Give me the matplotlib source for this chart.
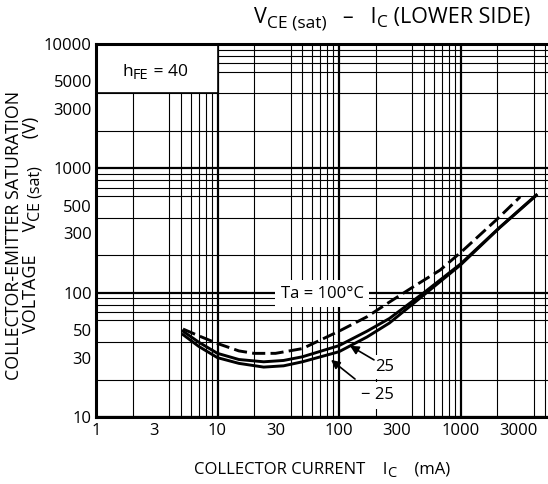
import numpy as np
import matplotlib
matplotlib.use("Agg")
import matplotlib.pyplot as plt
from matplotlib.ticker import FixedLocator, LogLocator, NullFormatter

plt.rcParams['font.family'] = ['Open Sans', 'DejaVu Sans']

# collector current (mA) / saturation voltage readings per temperature
ic_100 = [5.2, 7, 10, 15, 20, 30, 50, 100, 170, 260, 400, 680, 1050, 2000, 3100]
vce_100 = [51, 45, 39, 34, 32.5, 32.5, 35.5, 49, 64, 84, 110, 152, 219, 390, 590]

ic_25 = [5.2, 7, 10, 15, 24, 35, 50, 100, 170, 260, 500, 1000, 2100, 4200]
vce_25 = [49, 40, 32.5, 29, 27.8, 28.5, 30.5, 37.5, 49, 62, 100, 170, 335, 610]

ic_m25 = [5.2, 7, 10, 15, 24, 35, 50, 100, 170, 260, 500, 1000, 2100, 4200]
vce_m25 = [46, 37, 30, 27, 25.2, 25.8, 27.8, 33.5, 44, 57, 96, 167, 333, 605]

x_ticks = [1, 3, 10, 30, 100, 300, 1000, 3000]
y_ticks = [10, 30, 50, 100, 300, 500, 1000, 3000, 5000, 10000]

fig = plt.figure(figsize=(5.48, 4.84), dpi=100)
ax = fig.add_axes([96 / 548, 67 / 484, 1 - 96 / 548, 373 / 484])
ax.set_xscale('log')
ax.set_yscale('log')
ax.set_xlim(1, 10 ** ((548 - 96) / 121.5))
ax.set_ylim(10, 10000)


def chain(x, y, parts, rotation=0, center=False):
    """text made of pieces (text, size, drop in pt) placed one after another"""
    s0, size0, drop0 = parts[0]
    if rotation == 0:
        first = fig.text(x, y, s0, fontsize=size0, ha='left', va='bottom')
    else:
        first = fig.text(x, y, s0, fontsize=size0, ha='right', va='bottom',
                         rotation=90)
    arts = [first]
    prev, prev_drop = first, drop0
    for s, size, drop in parts[1:]:
        d = drop - prev_drop
        if rotation == 0:
            t = ax.annotate(s, xy=(1, 0), xycoords=prev, xytext=(0, -d),
                            textcoords='offset points', ha='left', va='bottom',
                            fontsize=size, annotation_clip=False)
        else:
            t = ax.annotate(s, xy=(1, 1), xycoords=prev, xytext=(d, 0),
                            textcoords='offset points', ha='right', va='bottom',
                            rotation=90, fontsize=size, annotation_clip=False)
        arts.append(t)
        prev, prev_drop = t, drop
    if center:
        fig.canvas.draw()
        r = fig.canvas.get_renderer()
        x0 = min(a.get_window_extent(r).x0 for a in arts)
        x1 = max(a.get_window_extent(r).x1 for a in arts)
        first.set_x(x - (x1 - x0) / 2 / fig.bbox.width)
    return arts


# grid: thin lines at every 1..9 step, thick lines on decades
ax.xaxis.set_major_locator(FixedLocator(x_ticks))
ax.yaxis.set_major_locator(FixedLocator(y_ticks))
ax.set_xticklabels([str(v) for v in x_ticks])
ax.set_yticklabels([str(v) for v in y_ticks])
ax.xaxis.set_minor_locator(LogLocator(base=10, subs=np.arange(1, 10), numticks=100))
ax.yaxis.set_minor_locator(LogLocator(base=10, subs=np.arange(1, 10), numticks=100))
ax.xaxis.set_minor_formatter(NullFormatter())
ax.yaxis.set_minor_formatter(NullFormatter())
ax.grid(which='minor', color='black', linewidth=0.8)
ax.grid(which='major', visible=False)
for d in [10, 100, 1000]:
    ax.axvline(d, color='black', linewidth=1.6, zorder=0.6)
    ax.axhline(d, color='black', linewidth=1.6, zorder=0.6)
ax.set_axisbelow(True)
ax.tick_params(which='both', length=0, labelsize=12)
ax.tick_params(axis='x', pad=4)
ax.tick_params(axis='y', pad=3)

for s in ['left', 'bottom', 'top']:
    ax.spines[s].set_linewidth(2.2)
ax.spines['right'].set_visible(False)

# curves
ax.plot(ic_100, vce_100, color='black', linewidth=2.1, dashes=(4.5, 1.8), zorder=3)
ax.plot(ic_25, vce_25, color='black', linewidth=2.1, zorder=3)
ax.plot(ic_m25, vce_m25, color='black', linewidth=2.1, zorder=3)

# hFE box (white, covers the grid)
ax.fill_between([1, 10], 4000, 10000, facecolor='white', edgecolor='black',
                linewidth=1.2, zorder=2)
chain(155 / 548, 1 - 80 / 484, [('h', 12.5, 0), ('FE', 10.5, 2.2), (' = 40', 12.5, 0)],
      center=True)

ax.text(72.5, 98, 'Ta = 100°C', ha='center', va='center', fontsize=12,
        bbox=dict(facecolor='white', edgecolor='none', pad=4), zorder=4)
ax.text(239, 25.3, '25', ha='center', va='center', fontsize=12,
        bbox=dict(facecolor='white', edgecolor='none', pad=3), zorder=2.5)
ax.text(209, 15, '\u2212 25', ha='center', va='center', fontsize=12,
        bbox=dict(facecolor='white', edgecolor='none', pad=4), zorder=2.5)

arrow = dict(arrowstyle='-|>', color='black', linewidth=1.2, mutation_scale=13,
             shrinkA=0, shrinkB=0)
ax.annotate('', xy=(123, 37.4), xytext=(194, 28.8), arrowprops=arrow, zorder=4)
ax.annotate('', xy=(86, 28.8), xytext=(135.5, 20.2), arrowprops=arrow, zorder=4)

# title and axis labels
chain(392 / 548, 1 - 28 / 484,
      [('V', 15.5, 0), ('CE (sat)', 12.5, 2.5), ('   \u2013   I', 15.5, 0),
       ('C', 12.5, 2.5), (' (LOWER SIDE)', 15.5, 0)], center=True)
chain(322 / 548, 1 - 478 / 484,
      [('COLLECTOR CURRENT    I', 12, 0), ('C', 10.5, 2.5), ('    (mA)', 12, 0)],
      center=True)
fig.text(14 / 548, 1 - 380 / 484, 'COLLECTOR-EMITTER SATURATION', rotation=90,
         ha='center', va='bottom', fontsize=12.8)
chain(40 / 548, 1 - 333 / 484,
      [('VOLTAGE     V', 13, 0), ('CE (sat)', 11.5, 2.5), ('      (V)', 13, 0)],
      rotation=90)

fig.savefig('out.png', dpi=100, facecolor='white')
